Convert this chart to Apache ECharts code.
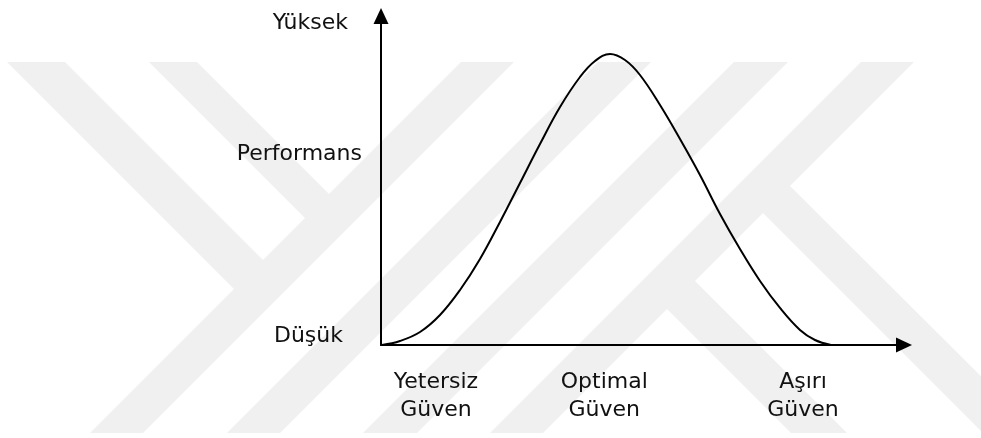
<!DOCTYPE html>
<html><head><meta charset="utf-8">
<script src="https://cdn.jsdelivr.net/npm/echarts@6/dist/echarts.min.js"></script>
<style>html,body{margin:0;padding:0;background:#fff}#c{width:981px;height:438px}</style>
</head><body><div id="c"></div>
<script>
// Curve (confidence 0-100 along x, performance 0-100 along y)
const confidence = [0.19, 3.63, 7.46, 11.28, 15.11, 18.93, 22.75, 26.58, 30.40, 34.23, 38.05, 40.92, 43.79, 46.65, 49.52, 53.35, 57.17, 60.99, 64.82, 68.64, 72.47, 76.29, 80.11, 82.98, 86.04];
const performance = [0, 1.22, 3.95, 9.12, 16.72, 26.14, 37.39, 49.24, 61.09, 72.34, 81.46, 86.32, 88.45, 86.63, 82.07, 72.95, 62.61, 51.67, 39.82, 29.18, 19.45, 11.25, 4.56, 1.52, 0];
// Axis labels and where they sit on each axis
const xLabels = ['Yetersiz\nGüven', 'Optimal\nGüven', 'Aşırı\nGüven'];
const xLabelValues = [10.5, 42.7, 80.7];
const yLabels = ['Düşük', 'Performans', 'Yüksek'];
const yLabelValues = [2.7, 58.1, 97.9];

// faint background watermark (decoration only)
const WM = [
  [[7,62],[65,62],[271,268],[242,297]],
  [[149,62],[197,62],[337,202],[313,226]],
  [[90,433],[143,433],[514,62],[461,62]],
  [[227,433],[280,433],[651,62],[598,62]],
  [[363,433],[417,433],[788,62],[734,62]],
  [[490,433],[543,433],[914,62],[861,62]],
  [[654,296],[682,268],[847,433],[791,433]],
  [[750,200],[777,173],[1038,433],[983,433]]
];

const FONT = 'DejaVu Sans';
const FS = 22;
const chart = echarts.init(document.getElementById('c'), null, {renderer: 'canvas'});
const nearest = (arr, v) => { let bi = 0; arr.forEach((a, i) => { if (Math.abs(a - v) < Math.abs(arr[bi] - v)) bi = i; }); return bi; };

chart.setOption({
  animation: false,
  backgroundColor: '#ffffff',
  graphic: WM.map(pts => ({type: 'polygon', silent: true, z: -100, shape: {points: pts}, style: {fill: '#f0f0f0'}})),
  grid: {left: 381, right: 77, top: 16, bottom: 93, containLabel: false},
  xAxis: {
    type: 'value', min: 0, max: 100,
    splitLine: {show: false},
    axisTick: {show: false},
    axisLine: {show: true, onZero: false, symbol: ['none', 'triangle'], symbolSize: [15, 16], lineStyle: {color: '#000', width: 2}},
    axisLabel: {
      customValues: xLabelValues,
      formatter: v => xLabels[nearest(xLabelValues, v)],
      margin: 23, fontFamily: FONT, fontSize: FS, lineHeight: 28, color: '#111', align: 'center'
    }
  },
  yAxis: {
    type: 'value', min: 0, max: 100,
    splitLine: {show: false},
    axisTick: {show: false},
    axisLine: {show: true, onZero: false, symbol: ['none', 'triangle'], symbolSize: [15, 16], lineStyle: {color: '#000', width: 2}},
    axisLabel: {
      customValues: yLabelValues,
      formatter: v => { const i = nearest(yLabelValues, v); return '{r' + i + '|' + yLabels[i] + '}'; },
      margin: 19, color: '#111', fontFamily: FONT, fontSize: FS,
      rich: {
        r0: {fontFamily: FONT, fontSize: FS, color: '#111', padding: [0, 19, 0, 0]},
        r1: {fontFamily: FONT, fontSize: FS, color: '#111', padding: [0, 0, 0, 0]},
        r2: {fontFamily: FONT, fontSize: FS, color: '#111', padding: [0, 14, 0, 0]}
      }
    }
  },
  series: [{
    type: 'line',
    data: confidence.map((x, i) => [x, performance[i]]),
    showSymbol: false,
    smooth: 0.4,
    lineStyle: {color: '#000', width: 2},
    z: 3
  }]
});
</script>
</body></html>
